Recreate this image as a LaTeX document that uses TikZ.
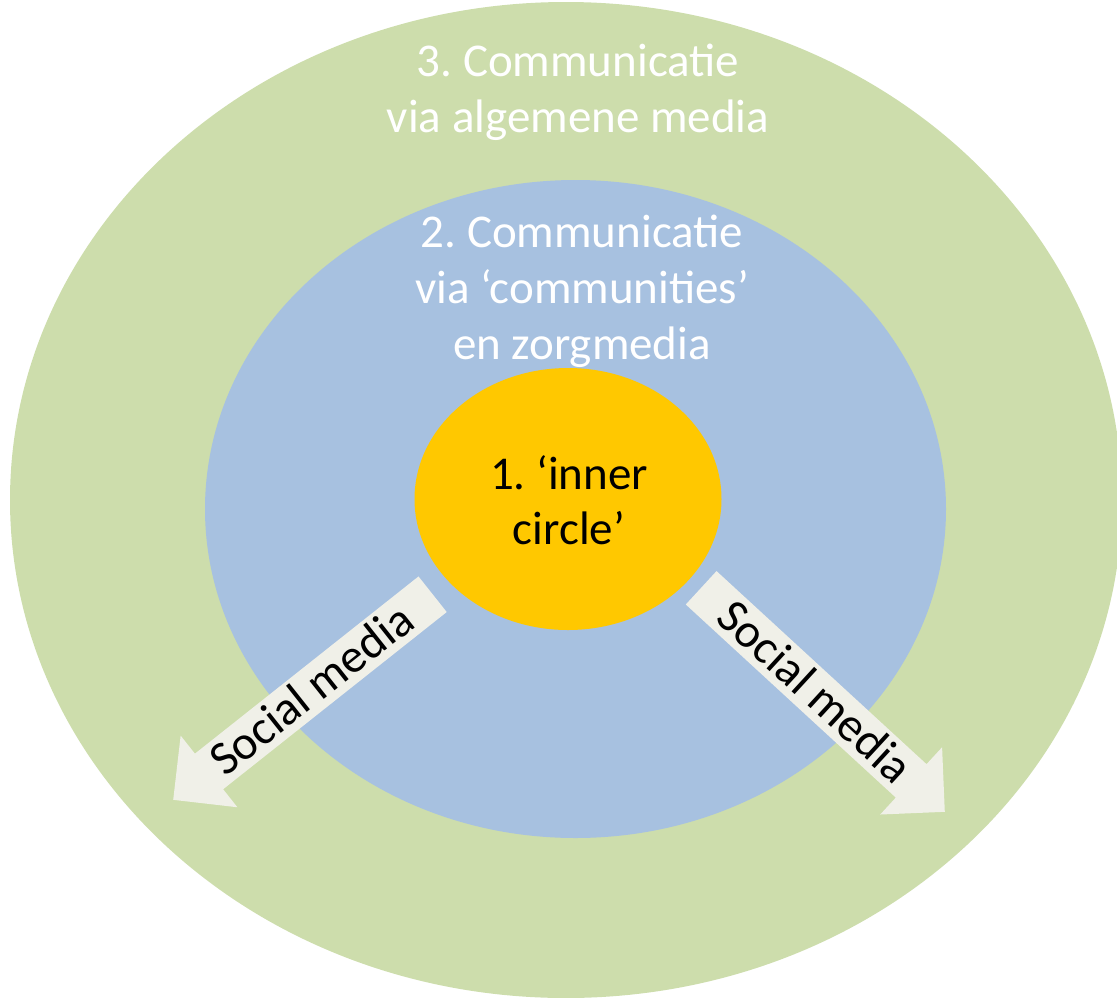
\documentclass[tikz,border=0pt]{standalone}
\usepackage{fontspec}
\setmainfont{Carlito}
\usetikzlibrary{shapes.geometric,shapes.arrows}
\frenchspacing

\definecolor{ringgreen}{RGB}{205,221,172}
\definecolor{ringblue}{RGB}{167,193,224}
\definecolor{ringyellow}{RGB}{255,200,0}
\definecolor{arrowgrey}{RGB}{240,240,232}

\begin{document}
\begin{tikzpicture}[x=1pt,y=-1pt,
    ring/.style={ellipse, inner sep=0pt},
    ringtext/.style={align=center, font=\fontsize{47}{56}\selectfont},
    smarrow/.style={single arrow,
          fill = arrowgrey,
          font = \fontsize{48}{56}\selectfont,
          text height = 30pt,
          text depth = 0pt,
          inner xsep = 0pt,
          inner ysep = 7.5pt,
          single arrow head extend = 23pt,
          minimum width = 91pt,
          minimum height = 331pt}]

    \useasboundingbox (0,0) rectangle (1117,997);
    \clip (0,0) rectangle (1117,997);

    \node[ring,
          fill = ringgreen,
          minimum width = 1112pt,
          minimum height = 996pt] (general) at (566,500) {};

    \node[ring,
          fill = ringblue,
          minimum width = 741pt,
          minimum height = 658pt] (comm) at (575.5,509) {};

    \node[ring,
          fill = ringyellow,
          minimum width = 307pt,
          minimum height = 262pt] (inner) at (568,499) {};

    \node[ringtext, text = white] (t3) at (578,92) {3. Communicatie\\via algemene media};
    \node[ringtext, text = white] (t2) at (582,291) {2. Communicatie\\via ‘communities’\\en zorgmedia};
    \node[ringtext, font = \fontsize{47}{55}\selectfont] (t1) at (569,500) {1. ‘inner\\circle’};

    % social media arrows
    \node[smarrow, rotate = 38.4, shape border rotate = 180, anchor = tip] (smL) at (173,800) {Social media};
    \node[smarrow, rotate = -42.6, anchor = tip] (smR) at (945,812) {Social media};

\end{tikzpicture}
\end{document}
